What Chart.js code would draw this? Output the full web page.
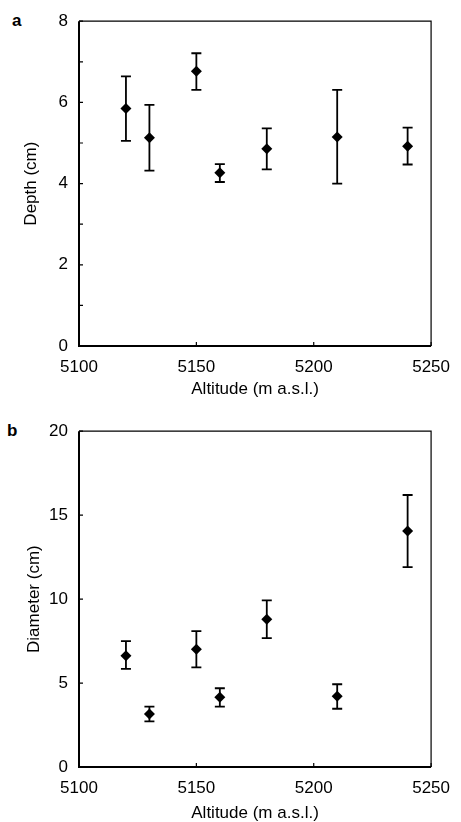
<!DOCTYPE html>
<html lang="en">
<head>
<meta charset="UTF-8">
<title>Depth and diameter vs altitude</title>
<script src="https://cdn.jsdelivr.net/npm/chart.js@4.4.1/dist/chart.umd.min.js"></script>
<style>
  body { margin: 0; background: #fff; width: 461px; height: 822px; position: relative; overflow: hidden;
         font-family: "Liberation Sans", Arial, sans-serif; }
  .panel { position: absolute; left: 0; width: 461px; }
  #wrapA { top: 0; height: 410px; }
  #wrapB { top: 410px; height: 412px; }
  .tag { position: absolute; font-weight: bold; font-size: 17px; line-height: 1; color: #000; }
</style>
</head>
<body>
<div class="tag" style="left:12px; top:12px;">a</div>
<div class="tag" style="left:7px; top:422px;">b</div>
<div class="panel" id="wrapA"><canvas id="chartA" width="461" height="410"></canvas></div>
<div class="panel" id="wrapB"><canvas id="chartB" width="461" height="412"></canvas></div>

<script>
// altitude of each sampling site (m a.s.l.)
const altitudes = [5120, 5130, 5150, 5160, 5180, 5210, 5240];

// panel a: depth (cm), mean with error bar ends
const depthMean = [5.85, 5.13, 6.77, 4.27, 4.86, 5.15, 4.92];
const depthHigh = [6.64, 5.94, 7.21, 4.48, 5.36, 6.31, 5.38];
const depthLow  = [5.05, 4.32, 6.31, 4.04, 4.35, 4.00, 4.47];

// panel b: diameter (cm), mean with error bar ends
const diamMean = [6.63, 3.15, 7.02, 4.16, 8.80, 4.22, 14.06];
const diamHigh = [7.50, 3.59, 8.09, 4.69, 9.92, 4.93, 16.20];
const diamLow  = [5.84, 2.72, 5.93, 3.59, 7.67, 3.47, 11.91];

Chart.defaults.font.family = '"Liberation Sans", Arial, sans-serif';
Chart.defaults.color = '#000';

// error bars, box frame and inward tick marks
const framePlugin = {
  id: 'framePlugin',
  beforeDatasetsDraw(chart, args, opts) {
    const { ctx, scales: { x, y } } = chart;
    ctx.save();
    ctx.strokeStyle = '#000';
    ctx.lineWidth = 1.8;
    opts.high.forEach((hi, i) => {
      const px = x.getPixelForValue(altitudes[i]);
      const top = y.getPixelForValue(hi);
      const bot = y.getPixelForValue(opts.low[i]);
      ctx.beginPath();
      ctx.moveTo(px, top); ctx.lineTo(px, bot);
      ctx.moveTo(px - 5, top); ctx.lineTo(px + 5, top);
      ctx.moveTo(px - 5, bot); ctx.lineTo(px + 5, bot);
      ctx.stroke();
    });
    ctx.restore();
  },
  afterDatasetsDraw(chart) {
    const { ctx, chartArea: a, scales: { x, y } } = chart;
    ctx.save();
    ctx.strokeStyle = '#000';
    // thin top/right, heavier left/bottom
    ctx.lineWidth = 1.2;
    ctx.beginPath();
    ctx.moveTo(a.left, a.top); ctx.lineTo(a.right, a.top); ctx.lineTo(a.right, a.bottom);
    ctx.stroke();
    ctx.lineWidth = 2;
    ctx.beginPath();
    ctx.moveTo(a.left, a.top); ctx.lineTo(a.left, a.bottom); ctx.lineTo(a.right, a.bottom);
    ctx.stroke();
    ctx.lineWidth = 1.2;
    ctx.beginPath();
    x.ticks.forEach(t => {
      const px = x.getPixelForValue(t.value);
      ctx.moveTo(px, a.bottom); ctx.lineTo(px, a.bottom - 4);
    });
    y.ticks.forEach(t => {
      const py = y.getPixelForValue(t.value);
      ctx.moveTo(a.left, py); ctx.lineTo(a.left + 4, py);
    });
    ctx.stroke();
    ctx.restore();
  }
};

function makeChart(id, cfg) {
  return new Chart(document.getElementById(id), {
    type: 'scatter',
    data: {
      datasets: [{
        data: altitudes.map((alt, i) => ({ x: alt, y: cfg.mean[i] })),
        pointStyle: 'rectRot',
        pointRadius: 5.5,
        backgroundColor: '#000',
        borderColor: '#000',
        borderWidth: 0,
        showLine: false
      }]
    },
    options: {
      responsive: false,
      animation: false,
      events: [],
      layout: { padding: cfg.padding },
      plugins: {
        legend: { display: false },
        tooltip: { enabled: false },
        framePlugin: { high: cfg.high, low: cfg.low }
      },
      scales: {
        x: {
          type: 'linear', min: 5100, max: 5250,
          ticks: { stepSize: 50, padding: 11, font: { size: 17 }, callback: v => String(v) },
          grid: { display: false, drawTicks: false },
          border: { display: false },
          title: { display: true, text: 'Altitude (m a.s.l.)', font: { size: 17 },
                   padding: { top: 0, bottom: cfg.xTitlePad } },
          afterFit: s => { s.height = cfg.xHeight; }
        },
        y: {
          min: 0, max: cfg.yMax,
          ticks: { stepSize: cfg.yStep, padding: 11, font: { size: 17 },
                   callback: v => (v % cfg.yLabelStep === 0 ? String(v) : '') },
          grid: { display: false, drawTicks: false },
          border: { display: false },
          title: { display: true, text: cfg.yTitle, font: { size: 17 },
                   padding: { top: cfg.yTitlePad, bottom: 0 } },
          afterFit: s => { s.width = 79; }
        }
      }
    },
    plugins: [framePlugin]
  });
}

makeChart('chartA', {
  mean: depthMean, high: depthHigh, low: depthLow,
  yMax: 8, yStep: 1, yLabelStep: 2, yTitle: 'Depth (cm)',
  padding: { left: 0, top: 20, right: 19, bottom: 0 },
  xHeight: 64, xTitlePad: 10, yTitlePad: 21
});

makeChart('chartB', {
  mean: diamMean, high: diamHigh, low: diamLow,
  yMax: 20, yStep: 5, yLabelStep: 5, yTitle: 'Diameter (cm)',
  padding: { left: 0, top: 19, right: 23, bottom: 0 },
  xHeight: 55, xTitlePad: -2, yTitlePad: 24
});
</script>
</body>
</html>
